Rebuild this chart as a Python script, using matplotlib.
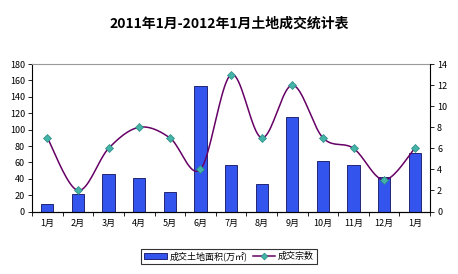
import numpy as np
import matplotlib
matplotlib.use('Agg')
from matplotlib import pyplot as plt

plt.rcParams['font.family'] = ['Noto Sans CJK SC', 'DejaVu Sans']

months = ['1月', '2月', '3月', '4月', '5月', '6月', '7月', '8月', '9月', '10月', '11月', '12月', '1月']
area = [9, 22, 46, 41, 24, 153, 57, 34, 116, 62, 57, 42, 71]
deals = [7, 2, 6, 8, 7, 4, 13, 7, 12, 7, 6, 3, 6]

bar_col = '#3355ee'
line_col = '#660066'
mark_col = '#44b3a8'


def smooth(xs, ys, n=20):
    # catmull-rom style smoothing, like the excel "smoothed line"
    xs = np.asarray(xs, float)
    ys = np.asarray(ys, float)
    px = np.concatenate([[xs[0]], xs, [xs[-1]]])
    py = np.concatenate([[ys[0]], ys, [ys[-1]]])
    ox, oy = [], []
    for i in range(1, len(px) - 2):
        t = np.linspace(0, 1, n, endpoint=False)
        for p, o in ((px, ox), (py, oy)):
            p0, p1, p2, p3 = p[i - 1], p[i], p[i + 1], p[i + 2]
            o.extend(0.5 * (2 * p1 + (-p0 + p2) * t + (2 * p0 - 5 * p1 + 4 * p2 - p3) * t ** 2
                            + (-p0 + 3 * p1 - 3 * p2 + p3) * t ** 3))
    ox.append(xs[-1])
    oy.append(ys[-1])
    return ox, oy


fig = plt.figure(figsize=[4.58, 2.74], dpi=100)
ax = fig.add_axes([0.070, 0.228, 0.869, 0.538])
x = np.arange(len(months))
b = ax.bar(x, area, width=0.4, color=bar_col, edgecolor='#101060', linewidth=0.6,
           label='成交土地面积(万㎡)')
ax.set_xlim(-0.5, len(months) - 0.5)
ax.set_ylim(0, 180)
ax.set_yticks(range(0, 181, 20))
ax.set_xticks(x)
ax.set_xticklabels(months)
ax.set_xticks(np.arange(-0.5, len(months), 1), minor=True)
ax.tick_params(axis='x', which='major', length=0, labelsize=6.5, pad=5)
ax.tick_params(axis='x', which='minor', length=3, direction='out', width=0.6)
ax.tick_params(axis='y', labelsize=6.5, length=3, width=0.6, pad=2)
ax.spines['top'].set_color('#999999')
ax.spines['right'].set_visible(False)

ax2 = ax.twinx()
sx, sy = smooth(x, deals)
ax2.plot(sx, sy, color=line_col, lw=1.1)
ax2.plot(x, deals, ls='none', marker='D', ms=4, mfc=mark_col, mec='#2a8a80', mew=0.5)
ax2.set_ylim(0, 14)
ax2.set_yticks(range(0, 15, 2))
ax2.tick_params(axis='y', labelsize=6.5, length=3, width=0.6, pad=2)
ax2.spines['top'].set_visible(False)
ax2.spines['left'].set_visible(False)

line_h, = ax2.plot([], [], color=line_col, lw=1.1, marker='D', ms=3.5, mfc=mark_col,
                   mec='#2a8a80', mew=0.5, label='成交宗数')
leg = fig.legend(handles=[b, line_h], loc='center', bbox_to_anchor=(0.5, 0.065), ncol=2,
                 fontsize=6.5, frameon=True, fancybox=False, edgecolor='black',
                 handlelength=2.5, handletextpad=0.3, columnspacing=0.6, borderpad=0.3)
leg.get_frame().set_linewidth(0.8)

fig.text(0.5, 0.915, '2011年1月-2012年1月土地成交统计表', ha='center', va='center',
         fontsize=10, fontweight='bold')

fig.savefig('out.png', dpi=100)
